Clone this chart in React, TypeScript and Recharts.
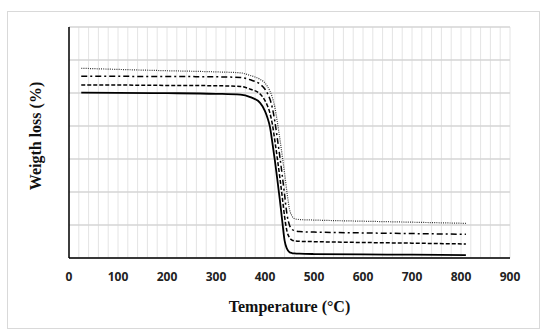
import React from 'react';
import { LineChart, Line, XAxis, YAxis, CartesianGrid } from 'recharts';

// temperature samples (°C) shared by all four curves
const temps = [25, 100, 200, 300, 350, 370, 390, 400, 405, 410, 415, 420, 425, 430, 435, 440, 445, 450, 455, 460, 470, 500, 600, 700, 810];

// curves, top to bottom
const dottedCurve = [115, 114.3, 113.5, 112.8, 112.2, 110.6, 108.3, 106.1, 104, 101.2, 97.3, 91.6, 82.7, 72.9, 62.3, 51.2, 39.5, 29.5, 25.5, 23.9, 23.3, 23, 22.3, 21.7, 21];
const dashDotCurve = [110.2, 110.1, 110, 109.8, 109.4, 108, 105.3, 102.3, 99.8, 96.3, 91, 82.9, 72.8, 62, 50.6, 38.3, 26.2, 19.9, 17.4, 16.6, 16, 15.7, 15.2, 14.8, 14.4];
const dashedCurve = [104.8, 104.8, 104.6, 104.4, 104, 102.3, 99.4, 95.4, 92.3, 87.9, 81.1, 71.3, 60.7, 49.5, 37.5, 25.1, 16, 12.3, 10.9, 10.4, 10.1, 9.9, 9.4, 9, 8.5];
const solidCurve = [100.2, 100.1, 99.9, 99.5, 99, 97.5, 94, 89, 85, 79.6, 70, 59.4, 48, 36, 23, 10.5, 5.5, 3.5, 3, 2.8, 2.6, 2.4, 2.2, 2, 1.8];

const xTicks = [0, 100, 200, 300, 400, 500, 600, 700, 800, 900];
const yTicks = [0, 20, 40, 60, 80, 100, 120, 140];
const X_MAX = 900;
const Y_MAX = 140;
// minor vertical grid every 20 °C
const minorX = Array.from({ length: 46 }, (_, i) => i * 20);

const data = temps.map((t, i) => ({
  t,
  dotted: dottedCurve[i],
  dashDot: dashDotCurve[i],
  dashed: dashedCurve[i],
  solid: solidCurve[i],
}));

const serif = '"Liberation Serif", "Times New Roman", serif';

const XTitle = (props: any) => {
  const vb = props.viewBox;
  return (
    <text x={vb.x + vb.width / 2} y={312} textAnchor='middle' fontFamily={serif} fontWeight={700} fontSize={16} fill='#111'>
      Temperature (°C)
    </text>
  );
};

const YTitle = () => (
  <text x={35} y={136} transform='rotate(-90 35 136)' textAnchor='middle' dominantBaseline='central' fontFamily={serif} fontWeight={700} fontSize={16} fill='#111'>
    Weigth loss (%)
  </text>
);

// grid lines at the minor temperature steps
const minorGrid = (props: any) => {
  const sc = props.xAxis && props.xAxis.scale;
  if (sc && typeof sc === 'function') return minorX.map((v) => sc(v));
  const o = props.offset;
  return minorX.map((v) => o.left + (v / X_MAX) * o.width);
};

const majorGrid = (props: any) => {
  const sc = props.yAxis && props.yAxis.scale;
  if (sc && typeof sc === 'function') return yTicks.map((v) => sc(v));
  const o = props.offset;
  return yTicks.map((v) => o.top + o.height - (v / Y_MAX) * o.height);
};

export default function App() {
  return (
    <div style={{ position: 'absolute', left: 0, top: 0, width: 550, height: 335, background: '#fff' }}>
      <div style={{ position: 'absolute', left: 7, top: 11, width: 531, height: 316, border: '1px solid #d9d9d9' }} />
      <LineChart width={550} height={335} data={data} margin={{ top: 27, right: 40, left: 9, bottom: 0 }}>
        <CartesianGrid horizontal={false} verticalCoordinatesGenerator={minorGrid} stroke='#e4e4e4' strokeWidth={1} />
        <CartesianGrid vertical={false} horizontalCoordinatesGenerator={majorGrid} stroke='#d4d4d4' strokeWidth={1.5} />
        <XAxis
          dataKey='t'
          type='number'
          domain={[0, X_MAX]}
          ticks={xTicks}
          tickLine={false}
          tickMargin={8}
          height={77}
          axisLine={{ stroke: '#000', strokeWidth: 1.5 }}
          tick={{ fontFamily: '"Open Sans", sans-serif', fontWeight: 700, fontSize: 12, fill: '#222' }}
          label={<XTitle />}
        />
        <YAxis
          type='number'
          domain={[0, Y_MAX]}
          ticks={yTicks}
          tick={false}
          tickLine={false}
          width={60}
          axisLine={{ stroke: '#000', strokeWidth: 1.5 }}
          label={<YTitle />}
        />
        <Line dataKey='dotted' type='monotone' stroke='#333' strokeWidth={1.2} strokeDasharray='1 1.2' dot={false} isAnimationActive={false} />
        <Line dataKey='dashDot' type='monotone' stroke='#000' strokeWidth={1.5} strokeDasharray='6 3 2 3' dot={false} isAnimationActive={false} />
        <Line dataKey='dashed' type='monotone' stroke='#000' strokeWidth={1.5} strokeDasharray='4 2' dot={false} isAnimationActive={false} />
        <Line dataKey='solid' type='monotone' stroke='#000' strokeWidth={1.8} dot={false} isAnimationActive={false} />
      </LineChart>
    </div>
  );
}
